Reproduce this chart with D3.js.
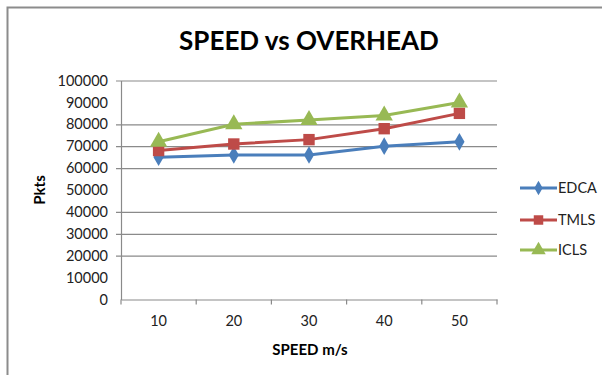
<!DOCTYPE html>
<html><head><meta charset="utf-8">
<script src="https://cdn.jsdelivr.net/npm/d3@7"></script>
<style>body{margin:0;background:#fff}svg{display:block}</style>
</head><body><svg id="c" width="602" height="375"></svg>
<script>
const categories = ["10","20","30","40","50"];
const edca = [65000,66000,66000,70000,72000];
const tmls = [68000,71000,73000,78000,85000];
const icls = [72000,80000,82000,84000,90000];
const yTicks = [0,10000,20000,30000,40000,50000,60000,70000,80000,90000,100000];
const gridShown = [20000,30000,40000,60000,70000,80000,100000];
const seriesNames = ["EDCA","TMLS","ICLS"];
const colors = ["#4A7EBB","#BE4B48","#98B954"];
const symbols = [d3.symbolDiamond, d3.symbolSquare, d3.symbolTriangle];
const series = [edca, tmls, icls];

const svg = d3.select("#c");
const font = "Lato, 'Open Sans', sans-serif";
const L = 121, R = 497, T = 80.5, B = 299.5;
const x = d3.scaleBand().domain(categories).range([L, R]);
const y = d3.scaleLinear().domain([0, 100000]).range([B, T]);

// frame
svg.append("path").attr("d", "M7.5,380V7.5H610").attr("fill","none").attr("stroke","#8c8c8c").attr("stroke-width",2);

// title
svg.append("text").attr("x", 309).attr("y", 50).attr("text-anchor","middle")
  .attr("font-family", font).attr("font-weight","bold").attr("font-size", 26)
  .attr("fill","#000").text("SPEED vs OVERHEAD");

// gridlines
const gridAxis = d3.axisLeft(y).tickValues(gridShown).tickSize(-(R - L)).tickFormat("");
const g = svg.append("g").attr("transform", `translate(${L},0)`).call(gridAxis);
g.select(".domain").remove();
g.selectAll("line").attr("stroke","#8a8a8a").attr("stroke-width",1.2).attr("x1", -5);

// y axis labels
const ya = svg.append("g").attr("transform", `translate(${L},0)`)
  .call(d3.axisLeft(y).tickValues(yTicks).tickSize(0).tickPadding(13).tickFormat(d3.format("d")));
ya.select(".domain").attr("stroke","#8a8a8a").attr("stroke-width",1.2);
ya.selectAll("text").attr("font-family", font).attr("font-size", 14.5).attr("fill","#222");

// x axis
const xa = svg.append("g").attr("transform", `translate(0,${B})`)
  .call(d3.axisBottom(x).tickSize(0).tickPadding(16));
xa.select(".domain").attr("stroke","#8a8a8a").attr("stroke-width",1.2);
xa.selectAll("text").attr("font-family", font).attr("font-size", 14.5).attr("fill","#222");
const bounds = categories.map(c => x(c)).concat([R]);
xa.selectAll(".bt").data(bounds).enter().append("line").attr("class","bt")
  .attr("x1", d => d).attr("x2", d => d).attr("y1", 0).attr("y2", 5)
  .attr("stroke","#8a8a8a").attr("stroke-width",1.2);

// axis titles
svg.append("text").attr("transform", "translate(45,190) rotate(-90)").attr("text-anchor","middle")
  .attr("font-family", font).attr("font-weight","bold").attr("font-size", 15).text("Pkts");
svg.append("text").attr("x", 310).attr("y", 355).attr("text-anchor","middle")
  .attr("font-family", font).attr("font-weight","bold").attr("font-size", 15).text("SPEED m/s");

// series
const line = d3.line().x((d,i) => x(categories[i]) + x.bandwidth()/2).y(d => y(d));
series.forEach((vals, si) => {
  svg.append("path").datum(vals).attr("d", line).attr("fill","none")
    .attr("stroke", colors[si]).attr("stroke-width", 3);
  svg.selectAll(".m"+si).data(vals).enter().append("path").attr("class","m"+si)
    .attr("transform", (d,i) => `translate(${x(categories[i]) + x.bandwidth()/2},${y(d)})`)
    .attr("d", d3.symbol().type(symbols[si]).size(si === 0 ? 90 : 130))
    .attr("fill", colors[si]);
});

// legend
const legY = [188, 220, 250];
seriesNames.forEach((n, si) => {
  const lg = svg.append("g").attr("transform", `translate(520,${legY[si]})`);
  lg.append("line").attr("x1",0).attr("x2",37).attr("stroke",colors[si]).attr("stroke-width",3);
  lg.append("path").attr("transform","translate(18.5,0)")
    .attr("d", d3.symbol().type(symbols[si]).size(si === 0 ? 60 : 90)).attr("fill", colors[si]);
  lg.append("text").attr("x", 38).attr("y", 5).attr("font-family", font).attr("font-size", 14.5)
    .attr("fill","#222").text(n);
});
</script></body></html>
